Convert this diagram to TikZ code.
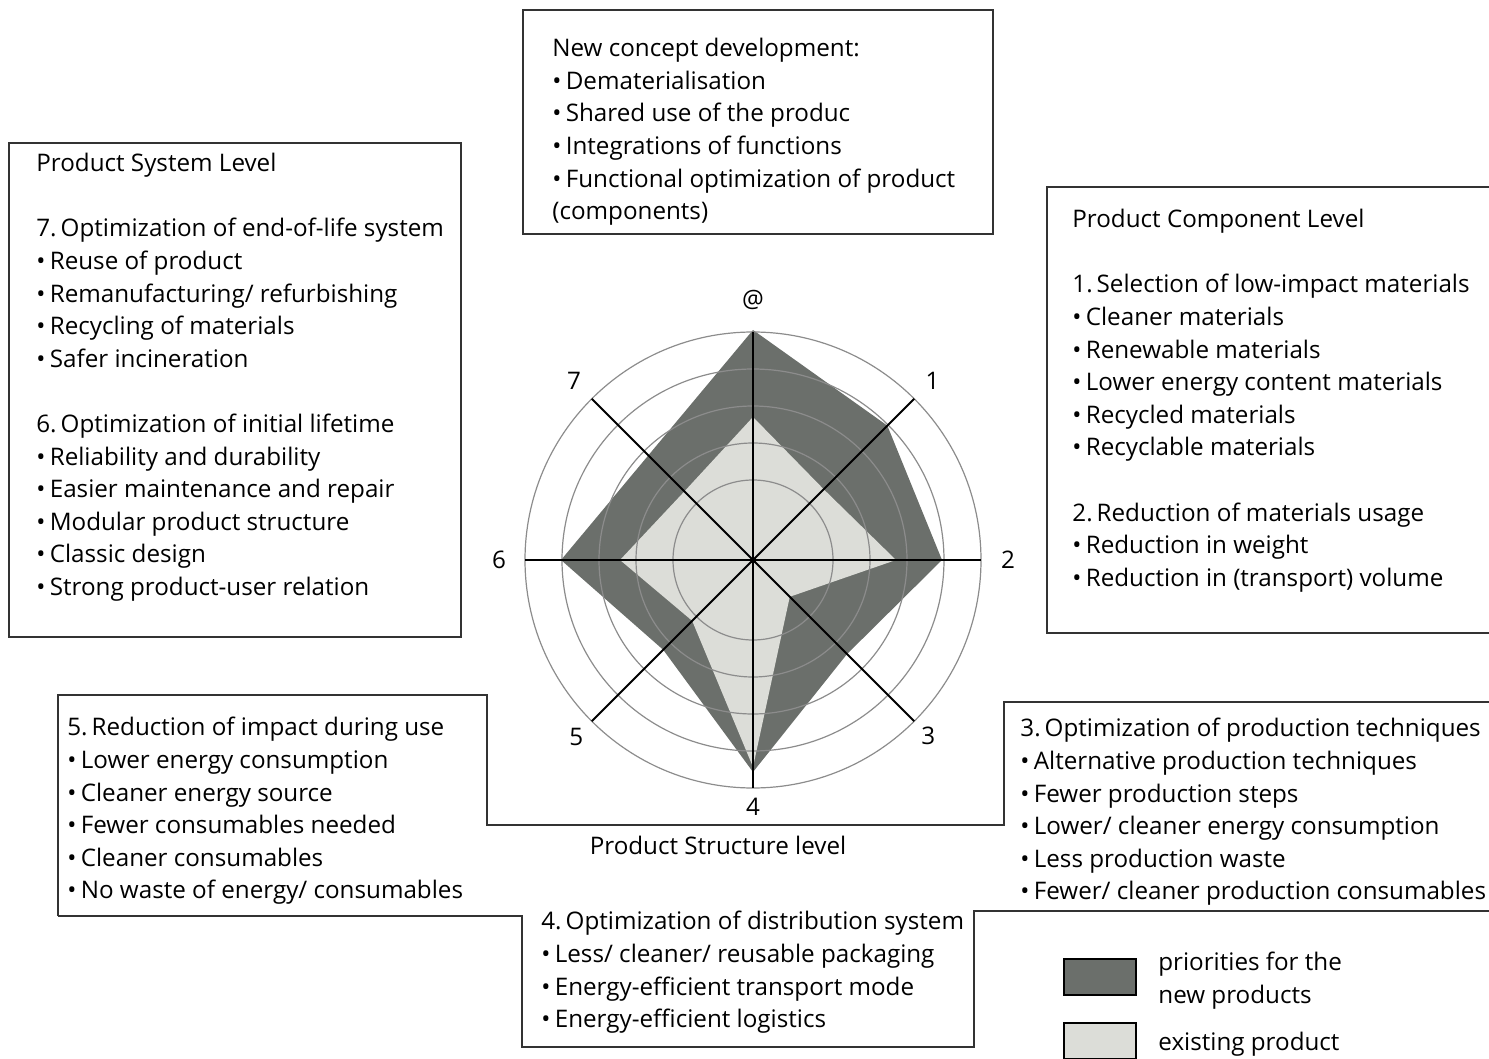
\documentclass[tikz,border=0pt]{standalone}
\usepackage{fontspec}
\setmainfont{Open Sans}
\usetikzlibrary{positioning}

\definecolor{prionew}{HTML}{6B6F6B}
\definecolor{prioold}{HTML}{DCDDD8}
\definecolor{ringgray}{HTML}{8C8C8C}
\definecolor{framegray}{HTML}{333333}

\tikzstyle{textblock} = [anchor=north west, inner sep=0pt, align=left,
    font=\fontsize{12.1}{16.3}\selectfont]
\tikzstyle{frame} = [draw=framegray, line width=1pt]
\tikzstyle{spoke} = [draw=black, line width=0.9pt]
\tikzstyle{ring} = [draw=ringgray, line width=0.6pt]
\tikzstyle{axislabel} = [inner sep=0pt, font=\fontsize{12.1}{13}\selectfont]
\tikzstyle{legbox} = [rectangle, draw=black, line width=1.2pt,
    minimum width=36pt, minimum height=18pt, inner sep=0pt]

\newcommand{\bul}{\textbullet\hspace{0.18em}}

\begin{document}
\begin{tikzpicture}[x=0.5pt, y=-0.5pt]

    \useasboundingbox (0,0) rectangle (1489,1059);

    % Frames
    \draw [frame] (523,10) rectangle (993,234);
    \draw [frame] (9,143) rectangle (461,637);
    \draw [frame] (1495,187) -- (1047,187) -- (1047,633) -- (1495,633);
    \draw [frame] (58,916) -- (58,695) -- (487,695) -- (487,825)
        -- (1004,825) -- (1004,702) -- (1495,702);
    \draw [frame] (58,916) -- (522,916) -- (522,1047) -- (974,1047)
        -- (974,911) -- (1495,911);

    % Radar chart
    \begin{scope}[shift={(753,560)}, y=0.5pt]
        \fill [prionew] (90:230) -- (45:190) -- (0:189) -- (-45:133)
            -- (-90:212) -- (-135:127) -- (180:192) -- (135:148) -- cycle;
        \fill [prioold] (90:143) -- (45:100) -- (0:143) -- (-45:52)
            -- (-90:207) -- (-135:86) -- (180:133) -- (135:97) -- cycle;
        \foreach \r in {80,117,154,191,228}
            \draw [ring] (0,0) circle (\r);
        \foreach \a in {0,45,...,315}
            \draw [spoke] (0,0) -- (\a:228);
        \fill [black] (-2.5,-2.5) rectangle (2.5,2.5);
        \foreach \a/\r/\txt/\nm in {90/260/@/axtop, 45/254/1/axone,
            0/255/2/axtwo, -45/248/3/axthree, -90/247/4/axfour,
            -135/250/5/axfive, 180/254/6/axsix, 135/253/7/axseven}
            \node [axislabel] (\nm) at (\a:\r) {\txt};
    \end{scope}

    % Place text blocks
    \node [textblock] (concept) at (552,38) {New concept development:\\
        \bul Dematerialisation\\
        \bul Shared use of the produc\\
        \bul Integrations of functions\\
        \bul Functional optimization of product\\
        (components)};

    \node [textblock] (system) at (36,153) {Product System Level\\[16.3pt]
        7.\,Optimization of end-of-life system\\
        \bul Reuse of product\\
        \bul Remanufacturing/ refurbishing\\
        \bul Recycling of materials\\
        \bul Safer incineration\\[16.3pt]
        6.\,Optimization of initial lifetime\\
        \bul Reliability and durability\\
        \bul Easier maintenance and repair\\
        \bul Modular product structure\\
        \bul Classic design\\
        \bul Strong product-user relation};

    \node [textblock] (component) at (1072,209) {Product Component Level\\[16.3pt]
        1.\,Selection of low-impact materials\\
        \bul Cleaner materials\\
        \bul Renewable materials\\
        \bul Lower energy content materials\\
        \bul Recycled materials\\
        \bul Recyclable materials\\[16.3pt]
        2.\,Reduction of materials usage\\
        \bul Reduction in weight\\
        \bul Reduction in (transport) volume};

    \node [textblock] (use) at (67,717) {5.\,Reduction of impact during use\\
        \bul Lower energy consumption\\
        \bul Cleaner energy source\\
        \bul Fewer consumables needed\\
        \bul Cleaner consumables\\
        \bul No waste of energy/ consumables};

    \node [textblock] (distribution) at (541,911) {4.\,Optimization of distribution system\\
        \bul Less/ cleaner/ reusable packaging\\
        \bul Energy-efficient transport mode\\
        \bul Energy-efficient logistics};

    \node [textblock] (production) at (1020,718) {3.\,Optimization of production techniques\\
        \bul Alternative production techniques\\
        \bul Fewer production steps\\
        \bul Lower/ cleaner energy consumption\\
        \bul Less production waste\\
        \bul Fewer/ cleaner production consumables};

    \node [inner sep=0pt, font=\fontsize{12.1}{16.3}\selectfont] (structure)
        at (718,845) {Product Structure level};

    % Legend
    \node [legbox, fill=prionew] (legnew) at (1100,977) {};
    \node [legbox, fill=prioold] (legold) at (1100,1041) {};
    \node [textblock] (legnewtext) at (1158,952) {priorities for the\\new products};
    \node [textblock] (legoldtext) at (1158,1032) {existing product};

\end{tikzpicture}
\end{document}
